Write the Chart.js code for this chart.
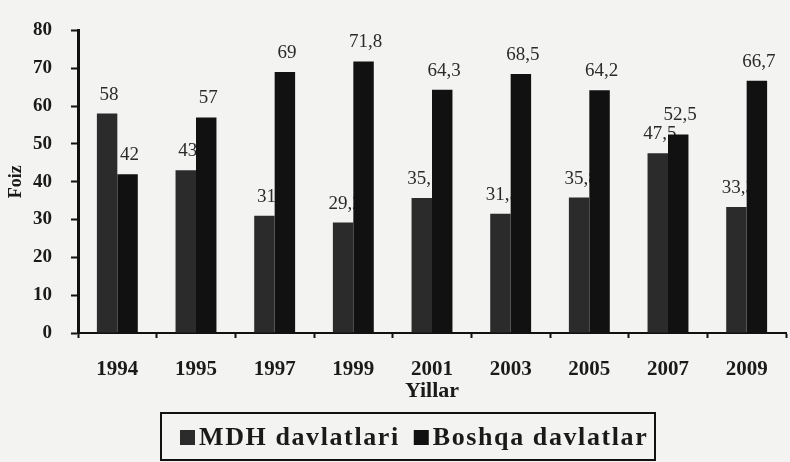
<!DOCTYPE html>
<html>
<head>
<meta charset="utf-8">
<script src="https://cdn.jsdelivr.net/npm/chart.js@4/dist/chart.umd.min.js"></script>
<style>
  html, body { margin: 0; padding: 0; background: #f3f3f1; }
  #wrap { width: 790px; height: 462px; position: relative; }
</style>
</head>
<body>
<div id="wrap"><canvas id="grafico" width="790" height="462"></canvas></div>
<script>
// =========================
// DATOS
// =========================
const yillar = ['1994', '1995', '1997', '1999', '2001', '2003', '2005', '2007', '2009'];
const mdhDavlatlari = [58, 43, 31, 29.2, 35.7, 31.5, 35.8, 47.5, 33.3];
const boshqaDavlatlar = [42, 57, 69, 71.8, 64.3, 68.5, 64.2, 52.5, 66.7];
const seriyaNomlari = ['MDH davlatlari', 'Boshqa davlatlar'];
const foizTicks = [0, 10, 20, 30, 40, 50, 60, 70, 80];

const serif = "'Liberation Serif', 'Times New Roman', serif";

// etiquetas de valores (se dibujan antes de las barras, así las tapa la barra vecina)
const etiquetas = {
    id: 'etiquetas',
    beforeDatasetsDraw(chart) {
        const ctx = chart.ctx;
        ctx.save();
        ctx.font = '19px ' + serif;
        ctx.fillStyle = '#2a2a2a';
        ctx.textAlign = 'center';
        ctx.textBaseline = 'middle';
        chart.data.datasets.forEach((ds, i) => {
            chart.getDatasetMeta(i).data.forEach((bar, j) => {
                const txt = String(ds.data[j]).replace('.', ',');
                ctx.fillText(txt, bar.x + 2, bar.y - 19);
            });
        });
        ctx.restore();
    }
};

// leyenda con marco
const leyenda = {
    id: 'leyenda',
    afterDraw(chart) {
        const ctx = chart.ctx;
        ctx.save();
        ctx.strokeStyle = '#111';
        ctx.lineWidth = 2;
        ctx.strokeRect(161, 413, 494, 47);
        ctx.font = 'bold 26px ' + serif;
        ctx.letterSpacing = '1.6px';
        ctx.textBaseline = 'middle';
        ctx.textAlign = 'left';
        let x = 180;
        chart.data.datasets.forEach((ds) => {
            ctx.fillStyle = ds.backgroundColor;
            ctx.fillRect(x, 430, 15, 15);
            ctx.fillStyle = '#1a1a1a';
            ctx.fillText(ds.label, x + 19, 438);
            x += 19 + ctx.measureText(ds.label).width + 14;
        });
        ctx.restore();
    }
};

new Chart(document.getElementById('grafico'), {
    type: 'bar',
    data: {
        labels: yillar,
        datasets: [
            {
                label: seriyaNomlari[0],
                data: mdhDavlatlari,
                backgroundColor: '#2b2b2b',
                categoryPercentage: 0.52,
                barPercentage: 1.0
            },
            {
                label: seriyaNomlari[1],
                data: boshqaDavlatlar,
                backgroundColor: '#111111',
                categoryPercentage: 0.52,
                barPercentage: 1.0
            }
        ]
    },
    options: {
        responsive: false,
        animation: false,
        layout: { padding: { top: 16, right: 4, left: 0, bottom: 57 } },
        plugins: {
            legend: { display: false },
            tooltip: { enabled: false }
        },
        scales: {
            x: {
                afterFit: (s) => { s.height = 72; },
                border: { color: '#111', width: 2 },
                grid: {
                    offset: true,
                    drawOnChartArea: false,
                    tickLength: 5,
                    tickWidth: 2,
                    tickColor: '#111'
                },
                ticks: {
                    color: '#1a1a1a',
                    padding: 19,
                    font: { family: serif, size: 21, weight: 'bold' }
                },
                title: {
                    display: true,
                    text: 'Yillar',
                    color: '#1a1a1a',
                    padding: 0,
                    font: { family: serif, size: 22, weight: 'bold' }
                }
            },
            y: {
                min: 0,
                max: 80,
                afterFit: (s) => { s.width = 78; },
                afterBuildTicks: (s) => { s.ticks = foizTicks.map(v => ({ value: v })); },
                border: { color: '#111', width: 3 },
                grid: {
                    drawOnChartArea: false,
                    tickLength: 7,
                    tickWidth: 2,
                    tickColor: '#111'
                },
                ticks: {
                    color: '#1a1a1a',
                    padding: 19,
                    font: { family: serif, size: 19, weight: 'bold' }
                },
                title: {
                    display: true,
                    text: 'Foiz',
                    color: '#1a1a1a',
                    padding: { top: 6, bottom: 0 },
                    font: { family: serif, size: 18, weight: 'bold' }
                }
            }
        }
    },
    plugins: [etiquetas, leyenda]
});
</script>
</body>
</html>
